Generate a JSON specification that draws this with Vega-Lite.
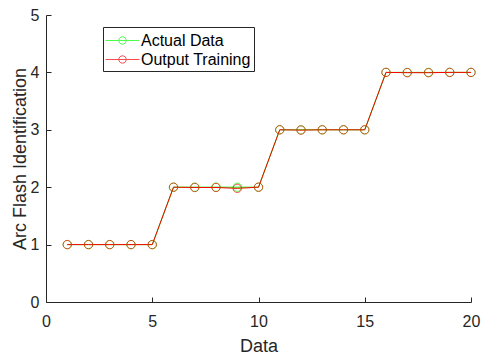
{
  "$schema": "https://vega.github.io/schema/vega-lite/v6.json",
  "autosize": "none",
  "width": 425,
  "height": 287,
  "padding": {"left": 46, "top": 15, "right": 10, "bottom": 53},
  "background": "white",
  "config": {
    "font": "Liberation Sans",
    "view": {"stroke": null},
    "axis": {
      "domainColor": "#262626",
      "tickColor": "#262626",
      "labelColor": "#262626",
      "titleColor": "#262626",
      "grid": false,
      "tickSize": -5,
      "labelFlush": false,
      "labelFontSize": 16,
      "titleFontSize": 18,
      "titleFontWeight": "normal",
      "labelFont": "Liberation Sans",
      "titleFont": "Liberation Sans"
    }
  },
  "data": {
    "values": [
      {"x": 1, "y": 1, "s": "Actual Data"},
      {"x": 2, "y": 1, "s": "Actual Data"},
      {"x": 3, "y": 1, "s": "Actual Data"},
      {"x": 4, "y": 1, "s": "Actual Data"},
      {"x": 5, "y": 1, "s": "Actual Data"},
      {"x": 6, "y": 2, "s": "Actual Data"},
      {"x": 7, "y": 2, "s": "Actual Data"},
      {"x": 8, "y": 2, "s": "Actual Data"},
      {"x": 9, "y": 2, "s": "Actual Data"},
      {"x": 10, "y": 2, "s": "Actual Data"},
      {"x": 11, "y": 3, "s": "Actual Data"},
      {"x": 12, "y": 3, "s": "Actual Data"},
      {"x": 13, "y": 3, "s": "Actual Data"},
      {"x": 14, "y": 3, "s": "Actual Data"},
      {"x": 15, "y": 3, "s": "Actual Data"},
      {"x": 16, "y": 4, "s": "Actual Data"},
      {"x": 17, "y": 4, "s": "Actual Data"},
      {"x": 18, "y": 4, "s": "Actual Data"},
      {"x": 19, "y": 4, "s": "Actual Data"},
      {"x": 20, "y": 4, "s": "Actual Data"},
      {"x": 1, "y": 1, "s": "Output Training"},
      {"x": 2, "y": 1, "s": "Output Training"},
      {"x": 3, "y": 1, "s": "Output Training"},
      {"x": 4, "y": 1, "s": "Output Training"},
      {"x": 5, "y": 1, "s": "Output Training"},
      {"x": 6, "y": 2, "s": "Output Training"},
      {"x": 7, "y": 1.995, "s": "Output Training"},
      {"x": 8, "y": 1.995, "s": "Output Training"},
      {"x": 9, "y": 1.98, "s": "Output Training"},
      {"x": 10, "y": 2, "s": "Output Training"},
      {"x": 11, "y": 3, "s": "Output Training"},
      {"x": 12, "y": 2.995, "s": "Output Training"},
      {"x": 13, "y": 3, "s": "Output Training"},
      {"x": 14, "y": 3, "s": "Output Training"},
      {"x": 15, "y": 3, "s": "Output Training"},
      {"x": 16, "y": 4, "s": "Output Training"},
      {"x": 17, "y": 3.995, "s": "Output Training"},
      {"x": 18, "y": 3.995, "s": "Output Training"},
      {"x": 19, "y": 4, "s": "Output Training"},
      {"x": 20, "y": 4, "s": "Output Training"}
    ]
  },
  "encoding": {
    "x": {
      "field": "x", "type": "quantitative",
      "scale": {"domain": [0, 20], "nice": false},
      "axis": {"values": [0, 5, 10, 15, 20], "title": "Data", "labelPadding": 16, "titlePadding": 8}
    },
    "y": {
      "field": "y", "type": "quantitative",
      "scale": {"domain": [0, 5], "nice": false},
      "axis": {"values": [0, 1, 2, 3, 4, 5], "title": "Arc Flash Identification", "labelPadding": 12, "titlePadding": 1}
    },
    "color": {
      "field": "s", "type": "nominal",
      "scale": {"domain": ["Actual Data", "Output Training"], "range": ["#00ff00", "#ff0000"]},
      "legend": {
        "title": null,
        "orient": "none",
        "legendX": 57,
        "legendY": 12,
        "strokeColor": "#262626",
        "fillColor": "white",
        "padding": 3,
        "labelFontSize": 16,
        "labelColor": "#000000",
        "labelFont": "Liberation Sans",
        "symbolType": "M-1.1,0H2.3M0.23,0A0.37,0.37 0 1,0 0.97,0A0.37,0.37 0 1,0 0.23,0",
        "symbolSize": 400,
        "symbolStrokeWidth": 1,
        "symbolFillColor": "transparent",
        "rowPadding": 0,
        "labelOffset": 14
      }
    }
  },
  "layer": [
    {"mark": {"type": "line", "strokeWidth": 1}},
    {"mark": {"type": "point", "shape": "circle", "filled": false, "size": 70, "strokeWidth": 1}}
  ]
}
